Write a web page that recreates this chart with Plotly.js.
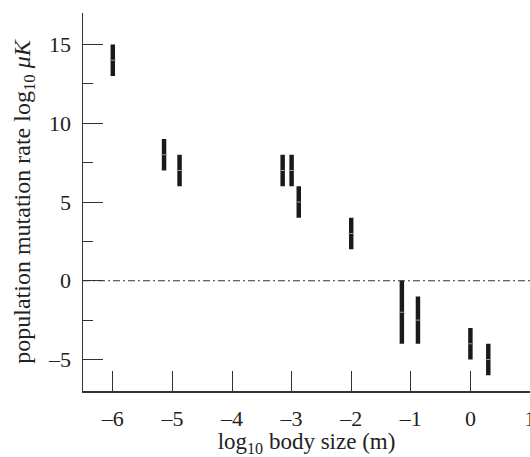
<!DOCTYPE html>
<html>
<head>
<meta charset="utf-8">
<script src="https://cdn.plot.ly/plotly-3.0.1.min.js"></script>
<style>
  html, body { margin: 0; padding: 0; background: #fff; }
  #chart { width: 530px; height: 457px; }
</style>
</head>
<body>
<div id="chart"></div>
<script>
// log10 body size (m) for each organism
const bodySize = [-6.0, -5.14, -4.88, -3.15, -3.0, -2.88, -2.0, -1.15, -0.88, 0.0, 0.30];
// population mutation rate log10 muK: lower end, upper end, midpoint of each range
const rateLow  = [13, 7, 6, 6, 6, 4, 2, -4, -4, -5, -6];
const rateHigh = [15, 9, 8, 8, 8, 6, 4, 0, -1, -3, -4];
const rateMid  = [14, 8, 7, 7, 7, 5, 3, -2, -2.5, -4, -5];
// tick labels
const xTicks = [-6, -5, -4, -3, -2, -1, 0, 1];
const yTicks = [-5, 0, 5, 10, 15];
const referenceLevel = 0;

const ink = '#222';
const serif = 'Liberation Serif, serif';

const ranges = {
  type: 'bar',
  x: bodySize,
  base: rateLow,
  y: rateHigh.map((h, i) => h - rateLow[i]),
  width: 0.075,
  marker: { color: '#1a1a1a', line: { width: 0 } },
  hoverinfo: 'skip',
  showlegend: false
};

const mids = {
  type: 'scatter',
  mode: 'markers',
  x: bodySize,
  y: rateMid,
  marker: { symbol: 'line-ew', size: 4, line: { width: 1, color: '#999' } },
  hoverinfo: 'skip',
  showlegend: false
};

const layout = {
  width: 530,
  height: 457,
  margin: { l: 83, r: 0, t: 13, b: 66 },
  paper_bgcolor: '#fff',
  plot_bgcolor: '#fff',
  font: { family: serif, color: ink, size: 22 },
  showlegend: false,
  xaxis: {
    range: [-6.5, 1.0],
    tickvals: xTicks,
    ticktext: xTicks.map(v => v < 0 ? '\u2013' + Math.abs(v) : String(v)),
    ticks: 'inside',
    ticklen: 20,
    tickwidth: 1,
    tickcolor: '#333',
    showline: true,
    linewidth: 1.5,
    linecolor: '#333',
    showgrid: false,
    zeroline: false,
    ticklabelstandoff: 7,
    ticklabeloverflow: 'allow',
    tickfont: { family: serif, size: 22, color: ink },
    automargin: false,
    title: { text: 'log<sub>10</sub> body size (m)', font: { family: serif, size: 23, color: ink }, standoff: 10 }
  },
  yaxis: {
    range: [-7, 17],
    tickvals: yTicks,
    ticktext: yTicks.map(v => v < 0 ? '\u2013' + Math.abs(v) : String(v)),
    ticks: 'inside',
    ticklen: 20,
    tickwidth: 1,
    tickcolor: '#333',
    minor: { ticks: 'inside', ticklen: 10, tickwidth: 1, tickcolor: '#333', tickvals: [-2.5, 2.5, 7.5, 12.5], showgrid: false },
    showline: true,
    linewidth: 1.5,
    linecolor: '#333',
    showgrid: false,
    zeroline: false,
    ticklabelstandoff: 6,
    tickfont: { family: serif, size: 22, color: ink },
    automargin: false,
    title: { text: 'population mutation rate log<sub>10</sub> <i>\u03bcK</i>', font: { family: serif, size: 24, color: ink }, standoff: 10 }
  },
  shapes: [{
    type: 'line', xref: 'paper', x0: 0, x1: 1, yref: 'y', y0: referenceLevel, y1: referenceLevel,
    line: { color: '#333', width: 1, dash: '7px,3px,2px,3px' }, layer: 'below'
  }]
};

Plotly.newPlot('chart', [ranges, mids], layout, { staticPlot: true, displayModeBar: false });
</script>
</body>
</html>
